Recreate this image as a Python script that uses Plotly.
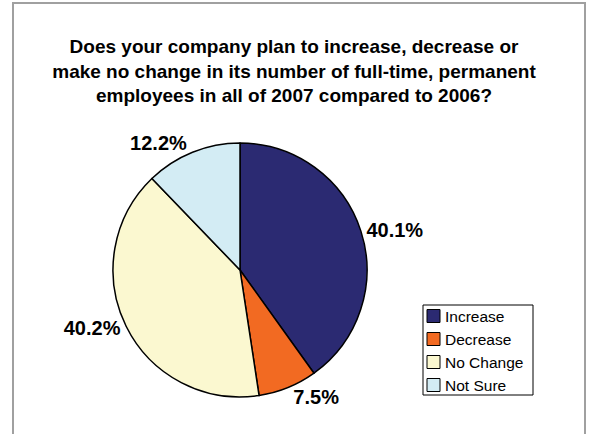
import plotly.graph_objects as go

# Survey responses (percent of companies)
categories = ["Increase", "Decrease", "No Change", "Not Sure"]
shares = [40.1, 7.5, 40.2, 12.2]
slice_colors = ["#2B2A72", "#F26A22", "#FBF8D0", "#D3ECF4"]

W, H = 590, 434
FONT = "Arial, Liberation Sans, Helvetica, sans-serif"

fig = go.Figure(
    go.Pie(
        labels=categories,
        values=shares,
        sort=False,
        direction="clockwise",
        rotation=0,
        marker=dict(colors=slice_colors, line=dict(color="#000000", width=1.5)),
        texttemplate="<b>%{value:.1f}%</b>",
        textposition="outside",
        textfont=dict(family=FONT, size=20, color="#000000"),
        hoverinfo="label+value",
        showlegend=False,
        domain=dict(x=[113 / W, 367 / W], y=[1 - 397 / H, 1 - 143 / H]),
    )
)

# Framed legend box built from the category list
shapes = [
    # outer chart frame
    dict(type="rect", xref="paper", yref="paper",
         x0=13 / W, x1=585 / W, y0=-0.05, y1=1 - 3 / H,
         line=dict(color="#A0A0A0", width=2), layer="below"),
    # legend border
    dict(type="rect", xref="paper", yref="paper",
         x0=423 / W, x1=533 / W, y0=1 - 395 / H, y1=1 - 305 / H,
         line=dict(color="#000000", width=1), fillcolor="#FFFFFF", layer="below"),
]
annotations = []
row_top, row_step, box = 316, 23, 13
for i, (name, col) in enumerate(zip(categories, slice_colors)):
    yc = row_top + i * row_step
    shapes.append(dict(type="rect", xref="paper", yref="paper",
                       x0=427 / W, x1=(427 + box) / W,
                       y0=1 - (yc + box / 2) / H, y1=1 - (yc - box / 2) / H,
                       line=dict(color="#000000", width=1), fillcolor=col))
    annotations.append(dict(text=name, xref="paper", yref="paper",
                            x=443 / W, y=1 - yc / H, xanchor="left", yanchor="middle",
                            showarrow=False,
                            font=dict(family=FONT, size=15.5, color="#000000")))

fig.update_layout(
    width=W,
    height=H,
    margin=dict(l=0, r=0, t=0, b=0),
    paper_bgcolor="#FFFFFF",
    plot_bgcolor="#FFFFFF",
    font=dict(family=FONT, color="#000000"),
    title=dict(
        text="Does your company plan to increase, decrease or<br>"
             "make no change in its number of full-time, permanent<br>"
             "employees in all of 2007 compared to 2006?",
        x=294 / W,
        xanchor="center",
        y=1 - 53 / H,
        yanchor="top",
        font=dict(family=FONT, size=19, color="#000000", weight="bold"),
    ),
    shapes=shapes,
    annotations=annotations,
)

fig.write_html("out.html")
